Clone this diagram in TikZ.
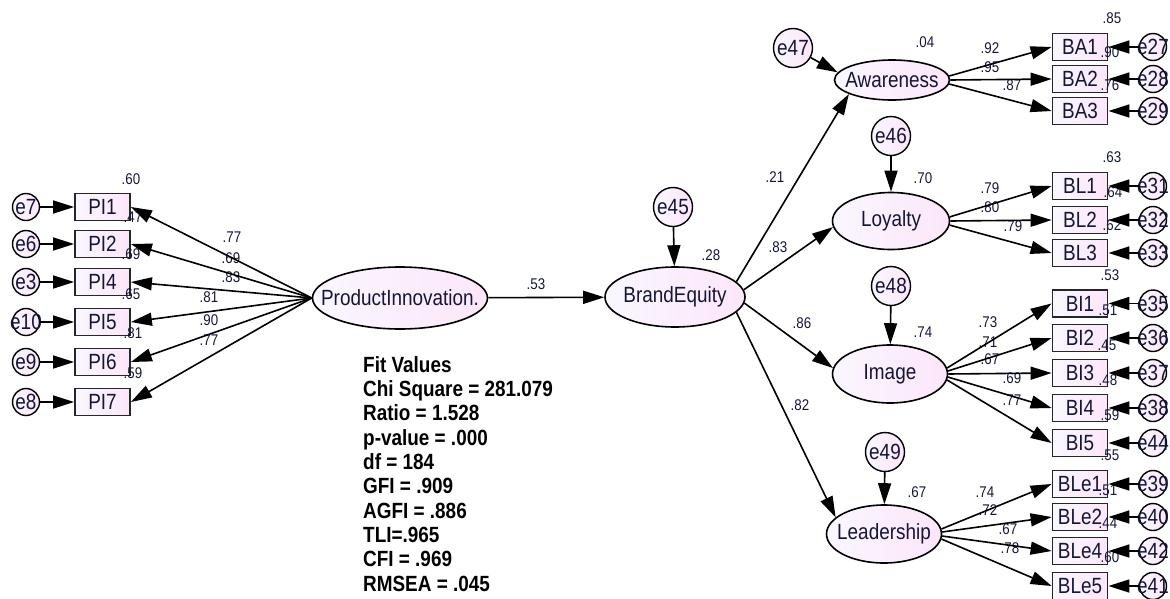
\documentclass[tikz,border=0pt]{standalone}
\usepackage{fontspec}
\setmainfont{Liberation Sans}
\newfontfamily\amos[FakeStretch=0.86]{Liberation Sans}
\usetikzlibrary{arrows.meta,shapes.geometric}
\definecolor{txt}{RGB}{20,22,55}
\definecolor{pinkA}{RGB}{250,247,255}
\definecolor{pinkB}{RGB}{252,230,250}
\newcommand\amoszb[1]{\makebox[0pt]{#1}}
\tikzset{
 shade/.style={left color=pinkA, right color=pinkB},
 lat/.style={ellipse, draw=black, line width=1.6pt, shade, inner sep=0pt, text=txt, font=\amos\fontsize{22}{24}\selectfont},
 obs/.style={rectangle, draw=black!85, line width=1.8pt, shade, minimum width=55pt, minimum height=27pt, inner sep=0pt, text=txt, font=\amos\fontsize{22}{24}\selectfont},
 err/.style={circle, draw=black, line width=1.4pt, shade, minimum size=27pt, inner sep=0pt, text=txt, font=\amos\fontsize{22}{24}\selectfont},
 errbig/.style={err, minimum size=39pt},
 num/.style={text=txt, inner sep=0pt, font=\amos\fontsize{15.5}{16}\selectfont},
 arr/.style={-{Triangle[length=21pt,width=13pt]}, line width=1.6pt, draw=black},
 fitstyle/.style={inner sep=0pt, align=left, text=black, font=\amos\bfseries\fontsize{22}{24.3}\selectfont},
}
\begin{document}
\begin{tikzpicture}[x=1pt,y=-1pt]
\useasboundingbox (0,0) rectangle (1170,598);
\clip (0,0) rectangle (1170,598);

% latent variables
\node[lat, minimum width=175pt, minimum height=62pt] (PInn) at (400,298) {\amoszb{ProductInnovation.}};
\node[lat, minimum width=140pt, minimum height=60pt] (BE) at (675,297) {\amoszb{BrandEquity}};
\node[lat, minimum width=115pt, minimum height=40pt] (Aw) at (892,80) {\amoszb{Awareness}};
\node[lat, minimum width=117pt, minimum height=57pt] (Loy) at (891,221) {\amoszb{Loyalty}};
\node[lat, minimum width=115pt, minimum height=58pt] (Img) at (890,374) {\amoszb{Image}};
\node[lat, minimum width=115pt, minimum height=58pt] (Lead) at (884,534) {\amoszb{Leadership}};

% disturbances
\node[errbig] (e45) at (673,207) {\amoszb{e45}};
\node[errbig] (e47) at (793,48) {\amoszb{e47}};
\node[errbig] (e46) at (891,136) {\amoszb{e46}};
\node[errbig] (e48) at (891,286) {\amoszb{e48}};
\node[errbig] (e49) at (885,452) {\amoszb{e49}};

% left indicators
\foreach \n/\e/\y in {PI1/e7/207, PI2/e6/244, PI4/e3/282, PI5/e10/322, PI6/e9/362, PI7/e8/402} {
  \node[obs] (\n) at (102.5,\y) {\amoszb{\n}};
  \node[err] (\e) at (26,\y) {\amoszb{\e}};
}
% right indicators
\foreach \n/\e/\y in {BA1/e27/47, BA2/e28/79, BA3/e29/111, BL1/e31/186, BL2/e32/220, BL3/e33/253, BI1/e35/303.5, BI2/e36/338, BI3/e37/373, BI4/e38/408, BI5/e44/443, BLe1/e39/484, BLe2/e40/517, BLe4/e42/551, BLe5/e41/586} {
  \node[obs] (\n) at (1080,\y) {\amoszb{\n}};
  \node[err] (\e) at (1153,\y) {\amoszb{\e}};
}

% numbers
\foreach \t/\x/\y [count=\i] in {
 .77/232/237, .69/231/258, .83/231/277, .81/209/297, .90/209/320, .77/209/340,
 .60/131/179, .47/133/217, .69/131/254, .65/131/294, .81/133/333, .59/133/373,
 .53/536/284, .28/711/255, .21/775/177, .83/778/247, .86/802/323, .82/800/405,
 .04/925/42, .70/923/178, .74/923/332, .67/917/492,
 .92/990/48, .95/990/67, .87/1012/85, .85/1112/18, .90/1110/52, .76/1110/85,
 .79/990/188, .80/990/207, .79/1013/226, .63/1112/157, .64/1113/192, .62/1112/225,
 .73/988/322, .71/988/342, .67/990/359, .69/1012/378, .77/1012/400,
 .53/1110/275, .51/1108/310, .45/1107/345, .48/1108/380, .59/1110/415,
 .74/985/492, .72/988/510, .67/1008/529, .78/1010/548,
 .55/1110/455, .51/1108/490, .44/1108/523, .60/1110/557} {
  \node[num] (n\i) at (\x,\y) {\t};
}

% fit values
\node[fitstyle, anchor=base west] (fitv) at (363,591) {Fit Values\\Chi Square = 281.079\\Ratio = 1.528\\p-value = .000\\df = 184\\GFI = .909\\AGFI = .886\\TLI=.965\\CFI = .969\\RMSEA = .045};

% arrows: errors to indicators
\foreach \n/\e in {PI1/e7, PI2/e6, PI4/e3, PI5/e10, PI6/e9, PI7/e8, BA1/e27, BA2/e28, BA3/e29, BL1/e31, BL2/e32, BL3/e33, BI1/e35, BI2/e36, BI3/e37, BI4/e38, BI5/e44, BLe1/e39, BLe2/e40, BLe4/e42, BLe5/e41} {
  \draw[arr] (\e) -- (\n);
}
% product innovation loadings
\foreach \n in {PI1, PI2, PI4, PI5, PI6, PI7} {
  \draw[arr] (PInn.west) -- (\n.east);
}
\draw[arr] (PInn) -- (BE);
\draw[arr] (e45) -- (BE);
\draw[arr] (e47) -- (Aw.172);
\draw[arr] (e46) -- (Loy);
\draw[arr] (e48) -- (Img);
\draw[arr] (e49) -- (Lead);
\draw[arr] (BE.14) -- (Aw.198);
\draw[arr] (BE.6) -- (Loy.186);
\draw[arr] (BE.-5) -- (Img.174);
\draw[arr] (BE.-14) -- (Lead.161);
% second-order loadings
\draw[arr] (Aw.4) -- (BA1.west);
\draw[arr] (Aw.0) -- (BA2.west);
\draw[arr] (Aw.-4) -- (BA3.west);
\draw[arr] (Loy.4) -- (BL1.west);
\draw[arr] (Loy.0) -- (BL2.west);
\draw[arr] (Loy.-4) -- (BL3.west);
\draw[arr] (Img.6) -- (BI1.west);
\draw[arr] (Img.3) -- (BI2.west);
\draw[arr] (Img.0) -- (BI3.west);
\draw[arr] (Img.-3) -- (BI4.west);
\draw[arr] (Img.-6) -- (BI5.west);
\draw[arr] (Lead.5) -- (BLe1.west);
\draw[arr] (Lead.2) -- (BLe2.west);
\draw[arr] (Lead.-2) -- (BLe4.west);
\draw[arr] (Lead.-5) -- (BLe5.west);
\end{tikzpicture}
\end{document}
